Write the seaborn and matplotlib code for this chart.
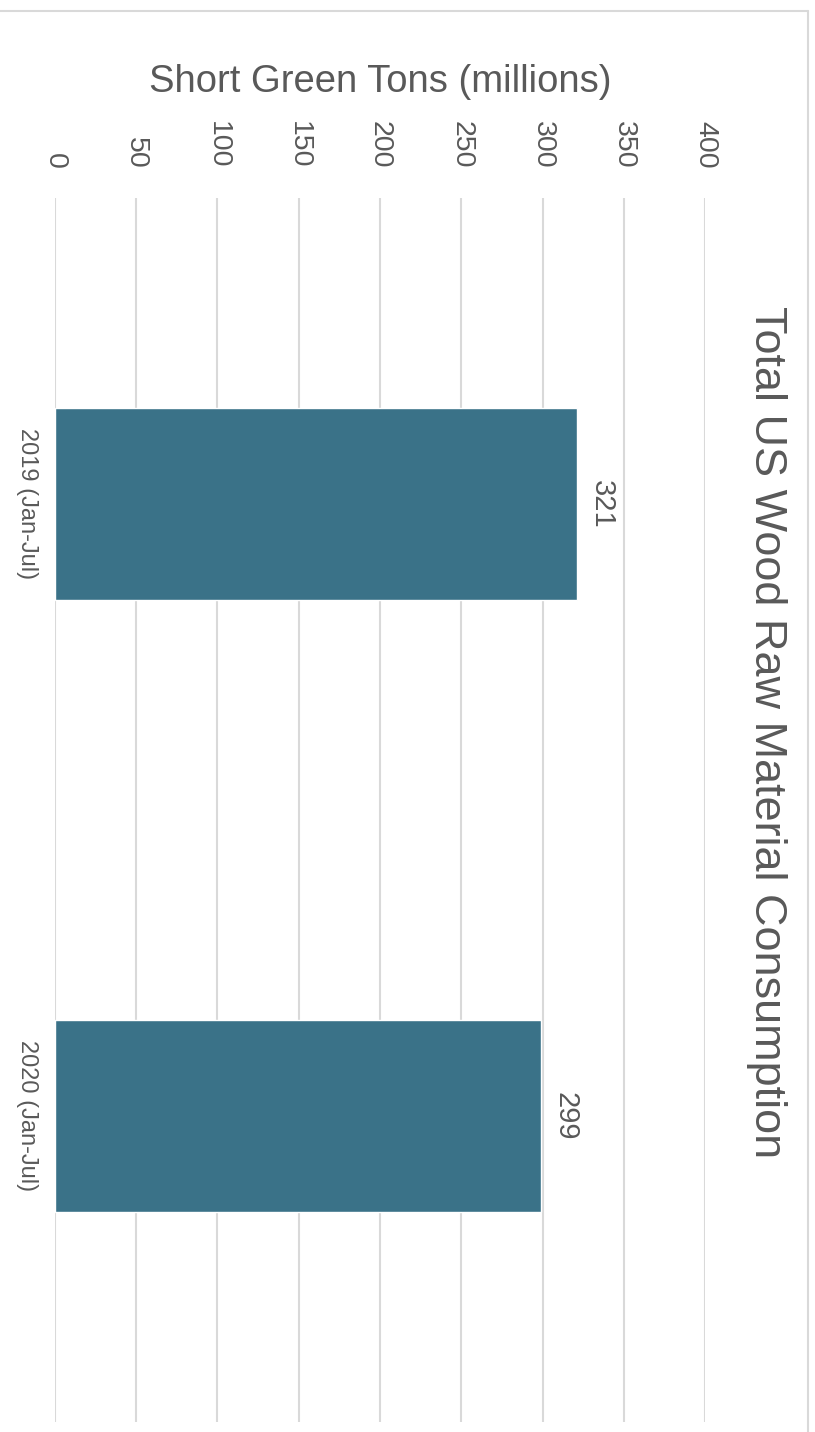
import matplotlib
matplotlib.use("Agg")
import matplotlib.pyplot as plt
import seaborn as sns
import pandas as pd
from matplotlib.lines import Line2D

categories = ["2019 (Jan-Jul)", "2020 (Jan-Jul)"]
values = [321, 299]
xticks = [0, 50, 100, 150, 200, 250, 300, 350, 400]
title = "Total US Wood Raw Material Consumption"
xlabel = "Short Green Tons (millions)"

sns.set_theme(style="white")
plt.rcParams['font.family'] = ['Liberation Sans', 'DejaVu Sans']

TXT = "#595959"
BAR = "#3a7288"
GRID = "#d9d9d9"

W, H = 815, 1432
fig = plt.figure(figsize=(W / 100, H / 100), dpi=100)
fig.patch.set_facecolor("white")
ax = fig.add_axes([55 / W, 1 - 1422 / H, 650 / W, 1224 / H])

df = pd.DataFrame({"cat": categories, "val": values})
sns.barplot(data=df, x="val", y="cat", orient="h", color=BAR,
            width=192 / 612, saturation=1, ax=ax)

ax.set_xlim(0, 400)
ax.set_ylim(1.5, -0.5)
ax.set_xticks(xticks)
ax.xaxis.tick_top()
ax.tick_params(axis="x", length=0, pad=21, labelsize=20.5, labelcolor=TXT)
for lab in ax.get_xticklabels():
    lab.set_rotation(-90)
    lab.set_ha("center")
    lab.set_va("bottom")
ax.tick_params(axis="y", length=0, pad=12, labelsize=17, labelcolor=TXT)
for lab in ax.get_yticklabels():
    lab.set_rotation(-90)
    lab.set_ha("right")
    lab.set_va("center")

ax.grid(axis="x", color=GRID, linewidth=1.5)
ax.grid(axis="y", visible=False)
ax.set_axisbelow(True)
for s in ax.spines.values():
    s.set_visible(False)

ax.set_ylabel("")
ax.xaxis.set_label_position("top")
ax.set_xlabel(xlabel, fontsize=27.5, color=TXT)
ax.xaxis.set_label_coords(0.5, 1.087)

for cont in ax.containers:
    ax.bar_label(cont, fmt="%d", padding=8, rotation=-90, fontsize=21,
                 color=TXT, label_type="edge")

fig.text(766 / W, 1 - 732 / H, title, rotation=-90, ha="center", va="center",
         fontsize=32.4, color=TXT)

# chart frame border
fig.add_artist(Line2D([0, 808 / W], [1 - 11 / H, 1 - 11 / H],
                      transform=fig.transFigure, color=GRID, linewidth=1.5))
fig.add_artist(Line2D([808 / W, 808 / W], [1 - 11 / H, 0],
                      transform=fig.transFigure, color=GRID, linewidth=1.5))

fig.savefig("out.png", dpi=100, facecolor="white")
